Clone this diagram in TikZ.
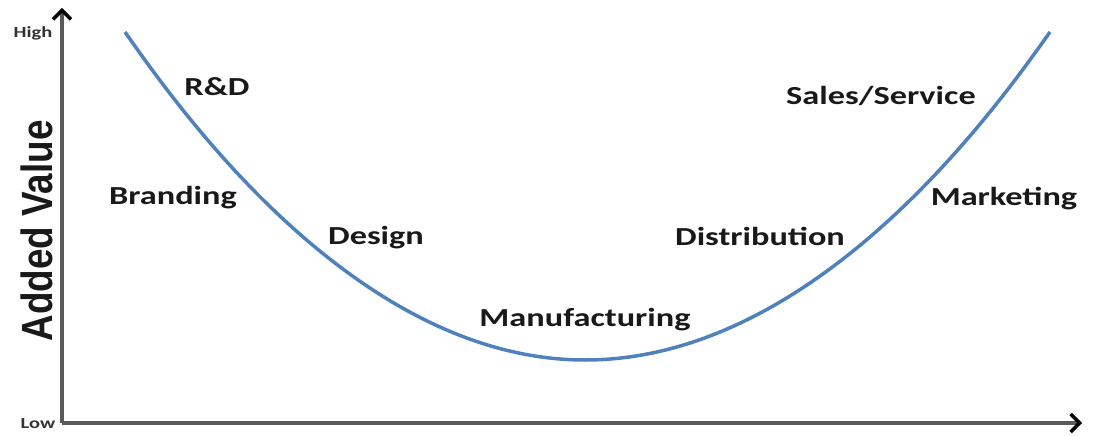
\documentclass[tikz,border=0pt]{standalone}
\usepackage{fontspec}
\setmainfont{Carlito}
\newfontfamily\axisfont{Liberation Sans}
\usetikzlibrary{arrows.meta}
\definecolor{curveblue}{HTML}{4F81BD}
\definecolor{axisgray}{HTML}{5A5A5A}
\newcommand{\wide}[1]{\scalebox{1.32}[1]{#1}}
\begin{document}
\begin{tikzpicture}[x=1pt,y=-1pt,
  axisline/.style={draw=axisgray,line width=3.6pt,-{Straight Barb[length=9pt,width=18pt,line width=3.4pt,black]}},
  stage/.style={font=\fontsize{26}{30}\selectfont\bfseries,text=black!90,inner sep=0pt},
  tick/.style={font=\fontsize{15.5}{17}\selectfont\bfseries,text=black!80,inner sep=0pt}]
\useasboundingbox (0,0) rectangle (1093,436);
\coordinate (origin) at (62,423);
\coordinate (ytop) at (62,8);
\coordinate (xend) at (1082,423);
\draw[axisline] (origin) -- (ytop);
\draw[axisline] (origin) -- (xend);
\draw[curveblue,line width=3.5pt] (125,32) parabola bend (585,360) (1050,32);
\node[tick] (high) at (33,33) {\wide{High}};
\node[tick] (low) at (38,424) {\wide{Low}};
\node[rotate=90,inner sep=0pt,font=\axisfont\fontsize{38}{42}\selectfont\bfseries,text=black!90] (av) at (37,231) {\scalebox{0.97}[1.15]{Added Value}};
\node[stage] (rd) at (217,87) {\wide{R\&D}};
\node[stage] (sales) at (881,96) {\wide{Sales/Service}};
\node[stage] (brand) at (173,198) {\wide{Branding}};
\node[stage] (mkt) at (1004,199) {\wide{Marketing}};
\node[stage] (design) at (376,238) {\wide{Design}};
\node[stage] (dist) at (760,236) {\wide{Distribution}};
\node[stage] (manu) at (585,320) {\wide{Manufacturing}};
\end{tikzpicture}
\end{document}
